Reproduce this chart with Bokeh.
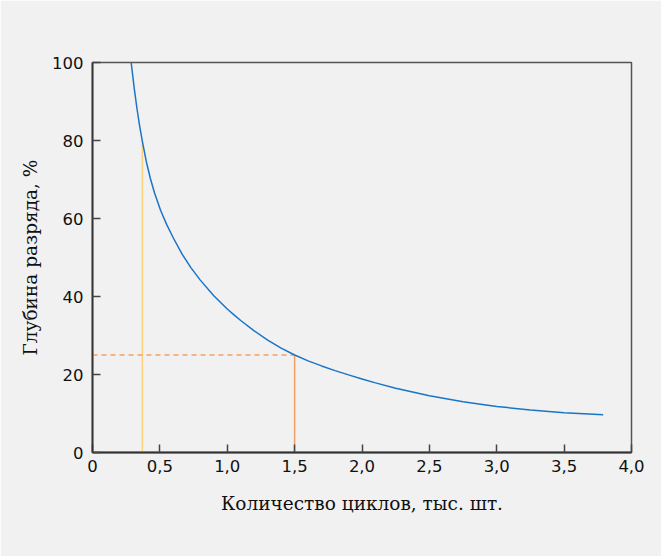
from bokeh.plotting import figure
from bokeh.models import FixedTicker, Range1d
from bokeh.embed import file_html
from bokeh.resources import INLINE

# Data (cycles in thousands, depth of discharge in %)
cycles = [0.287, 0.31, 0.33, 0.35, 0.37, 0.40, 0.43, 0.46, 0.505, 0.55, 0.60, 0.666,
          0.73, 0.80, 0.90, 1.00, 1.05, 1.10, 1.20, 1.30, 1.40, 1.50, 1.60, 1.70,
          1.80, 1.90, 2.00, 2.10, 2.25, 2.50, 2.75, 2.88, 3.00, 3.25, 3.50, 3.79]
dod = [100, 93.3, 88.2, 83.7, 79.8, 74.5, 70.2, 66.6, 62.1, 58.5, 55.0, 50.8,
       47.4, 44.2, 40.2, 36.8, 35.3, 33.85, 31.2, 28.8, 26.75, 25.0, 23.5, 22.2,
       21.0, 19.9, 18.85, 17.85, 16.5, 14.55, 13.0, 12.35, 11.8, 10.9, 10.2, 9.7]

mark_a_x = 0.37
mark_a_y = 79.8
mark_b_x = 1.5
mark_b_y = 25.0

x_ticks = [0, 0.5, 1.0, 1.5, 2.0, 2.5, 3.0, 3.5, 4.0]
x_tick_labels = ["0", "0,5", "1,0", "1,5", "2,0", "2,5", "3,0", "3,5", "4,0"]
y_ticks = [0, 20, 40, 60, 80, 100]

BG = "#f1f1f1"

p = figure(output_backend="svg", toolbar_location=None,
           frame_width=539, frame_height=390,
           min_border_left=92, min_border_top=62, min_border_right=30, min_border_bottom=104,
           x_range=Range1d(0, 4.0), y_range=Range1d(0, 100),
           background_fill_color=BG, border_fill_color=BG)

p.grid.visible = False
p.outline_line_color = "#555555"
p.outline_line_width = 1.5

p.line(x=[mark_a_x, mark_a_x], y=[0, mark_a_y], line_color="#fcd27a", line_width=1.5)
p.line(x=[mark_b_x, mark_b_x], y=[0, mark_b_y], line_color="#f4a060", line_width=1.5)
p.line(x=[0, mark_b_x], y=[mark_b_y, mark_b_y], line_color="#f4a060", line_width=1.5, line_dash="5 4")
p.line(x=cycles, y=dod, line_color="#1a74c8", line_width=1.5, line_join="round")

for ax in (p.xaxis[0], p.yaxis[0]):
    ax.axis_line_color = "#333333"
    ax.axis_line_width = 1.8
    ax.major_tick_line_color = "#444444"
    ax.major_tick_line_width = 1.5
    ax.major_tick_in = 8
    ax.major_tick_out = 0
    ax.minor_tick_line_color = None
    ax.major_label_text_font = "DejaVu Sans"
    ax.major_label_text_font_size = "16.5px"
    ax.major_label_text_color = "#111111"
    ax.axis_label_text_font = "DejaVu Serif"
    ax.axis_label_text_font_size = "18.5px"
    ax.axis_label_text_font_style = "normal"
    ax.axis_label_text_color = "#111111"

p.xaxis.ticker = FixedTicker(ticks=x_ticks)
p.xaxis.major_label_overrides = {t: l for t, l in zip(x_ticks, x_tick_labels)}
p.xaxis.major_label_standoff = 7
p.xaxis.axis_label = "Количество циклов, тыс. шт."
p.xaxis.axis_label_standoff = 18

p.yaxis.ticker = FixedTicker(ticks=y_ticks)
p.yaxis.major_label_standoff = 9
p.yaxis.axis_label = "Глубина разряда, %"
p.yaxis.axis_label_standoff = 8

open("out.html", "w").write(file_html(p, INLINE))
